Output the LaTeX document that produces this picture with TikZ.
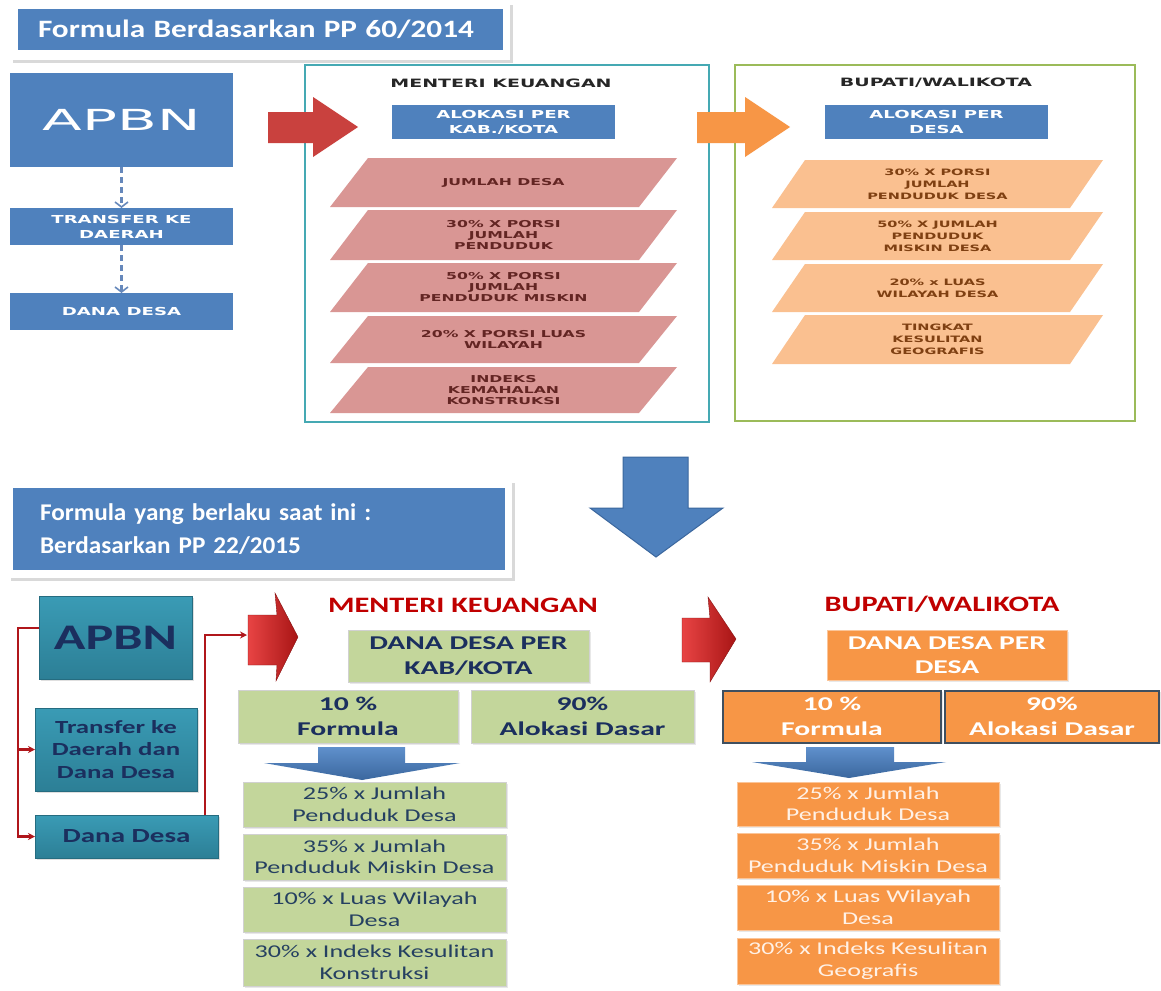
\documentclass[tikz,border=0pt]{standalone}
\usepackage{fontspec}
\setmainfont{Carlito}
\newfontfamily\myTitA[FakeStretch=1.25]{Carlito}
\newfontfamily\myTitB[FakeStretch=1.05]{Carlito}
\newfontfamily\myBot[FakeStretch=1.45]{Carlito}
\newfontfamily\myBotH[FakeStretch=1.52]{Carlito}
\newfontfamily\myHead[FakeStretch=1.38]{Carlito}
\newfontfamily\myVd[FakeStretch=1.65]{DejaVu Sans}
\newfontfamily\myAp[FakeStretch=2.0]{DejaVu Sans}
\usetikzlibrary{arrows.meta,shadows}
\definecolor{cBlue}{HTML}{4F81BD}
\definecolor{cBlueD}{HTML}{3B679E}
\definecolor{cBlueL}{HTML}{5F90CC}
\definecolor{cDash}{HTML}{6688BB}
\definecolor{cRedArr}{HTML}{C9413E}
\definecolor{cOrArr}{HTML}{F79646}
\definecolor{cPink}{HTML}{D99694}
\definecolor{cPinkTx}{HTML}{632523}
\definecolor{cLOr}{HTML}{FAC090}
\definecolor{cLOrTx}{HTML}{7F4012}
\definecolor{cTealFr}{HTML}{45A9B3}
\definecolor{cGrFr}{HTML}{9BBB59}
\definecolor{cTealL}{HTML}{3A9BB5}
\definecolor{cTealD}{HTML}{2C7F96}
\definecolor{cNavy}{HTML}{1B2F5E}
\definecolor{cGrn}{HTML}{C3D69B}
\definecolor{cGrnTx}{HTML}{254061}
\definecolor{cOrg}{HTML}{F79646}
\definecolor{cOrgBd}{HTML}{3F4F5F}
\definecolor{cOrgTx}{HTML}{FFF1E6}
\definecolor{cConn}{HTML}{B0161B}
\definecolor{cHRed}{HTML}{C00000}
\definecolor{cR3L}{HTML}{E84444}
\definecolor{cR3R}{HTML}{A81515}
\begin{document}
\begin{tikzpicture}[x=1pt,y=-1pt,
  topbox/.style={fill=cBlue, inner sep=0pt, outer sep=0pt, align=center, text=white,
     font=\myVd\bfseries\fontsize{11}{15}\selectfont},
  dasharr/.style={draw=cDash, line width=3pt, dash pattern=on 6pt off 4pt,
     -{Straight Barb[length=5pt,width=13pt,line width=1.6pt]}},
  frame/.style={line width=2pt, inner sep=0pt, outer sep=0pt},
  tophead/.style={font=\myVd\bfseries\fontsize{11.5}{12}\selectfont, text=black!85},
  pgtxt/.style={align=center, text=cPinkTx, font=\myVd\bfseries\fontsize{9.5}{11}\selectfont},
  lotxt/.style={align=center, text=cLOrTx, font=\myVd\bfseries\fontsize{8.8}{12}\selectfont},
  tealbox/.style={top color=cTealL, bottom color=cTealD, draw=cTealD!85!black, line width=0.5pt,
     inner sep=0pt, outer sep=0pt, align=center, text=cNavy,
     drop shadow={opacity=0.25, shadow xshift=2pt, shadow yshift=-2pt}},
  redcon/.style={draw=cConn, line width=2.2pt, -{Stealth[length=7pt,width=7pt]}},
  red3d/.style={left color=cR3L, right color=cR3R, draw=cR3R!80!black, line width=0.4pt},
  redhead/.style={font=\myHead\bfseries\fontsize{22}{23}\selectfont, text=cHRed},
  gbox/.style={fill=cGrn, draw=white!82!black, line width=0.6pt, inner sep=0pt, outer sep=0pt,
     align=center, drop shadow={opacity=0.18, shadow xshift=1.5pt, shadow yshift=-1.5pt}},
  obox/.style={fill=cOrg, draw=cOrg!55!white, line width=0.6pt, inner sep=0pt, outer sep=0pt,
     align=center, drop shadow={opacity=0.18, shadow xshift=1.5pt, shadow yshift=-1.5pt}},
  hdtxt/.style={font=\myBotH\bfseries\fontsize{19.5}{24.5}\selectfont},
  lsttxt/.style={font=\myBot\fontsize{18}{21.5}\selectfont},
  smarr/.style={top color=cBlueL, bottom color=cBlueD, draw=none}
]
\useasboundingbox (0,0) rectangle (1161,990);
\fill[white] (0,0) rectangle (1161,990);

% ---------- Title 1 ----------
\fill[black!15] (13,5) rectangle (513,63);
\fill[white] (10,2) rectangle (510,60);
\node[fill=cBlue, minimum width=485pt, minimum height=41pt, text width=445pt,
      inner xsep=20pt, inner ysep=0pt, outer sep=0pt, align=left, text=white,
      font=\myTitA\bfseries\fontsize{25}{28}\selectfont] (title1) at (260.5,29.5)
      {Formula Berdasarkan PP 60/2014};

% ---------- Top left column ----------
\node[topbox, minimum width=223pt, minimum height=94pt,
      font=\myAp\fontsize{29}{30}\selectfont] (apbn) at (121.5,120) {APBN};
\node[topbox, minimum width=223pt, minimum height=37pt] (trans) at (121.5,226.5) {TRANSFER KE\\DAERAH};
\node[topbox, minimum width=223pt, minimum height=37pt] (dana) at (121.5,311.5) {DANA DESA};
\draw[dasharr] (apbn) -- (trans);
\draw[dasharr] (trans) -- (dana);

% ---------- Menteri Keuangan frame ----------
\node[frame, draw=cTealFr, minimum width=404pt, minimum height=357pt] (mkf) at (507,243.5) {};
\node[tophead] (mkh) at (501,83) {MENTERI KEUANGAN};
\node[topbox, minimum width=223pt, minimum height=34pt] (alk) at (503.5,122) {ALOKASI PER\\KAB./KOTA};
\foreach \ty/\by/\txt [count=\i] in {158/207/{JUMLAH DESA},
    210/260/{30\% X PORSI\\JUMLAH\\PENDUDUK},
    263/312/{50\% X PORSI\\JUMLAH\\PENDUDUK MISKIN},
    316/363/{20\% X PORSI LUAS\\WILAYAH},
    367/413/{INDEKS\\KEMAHALAN\\KONSTRUKSI}}{
  \fill[cPink] (368,\ty) -- (677,\ty) -- (639,\by) -- (330,\by) -- cycle;
  \node[pgtxt] (pk\i) at (503.5,{(\ty+\by)/2}) {\txt};
}

% ---------- Bupati frame ----------
\node[frame, draw=cGrFr, minimum width=400pt, minimum height=356pt] (bwf) at (935,243) {};
\node[tophead] (bwh) at (936,83) {BUPATI/WALIKOTA};
\node[topbox, minimum width=223pt, minimum height=34pt] (ald) at (936.5,122) {ALOKASI PER\\DESA};
\foreach \ty/\by/\txt [count=\i] in {160/208/{30\% X PORSI\\JUMLAH\\PENDUDUK DESA},
    212/260/{50\% X JUMLAH\\PENDUDUK\\MISKIN DESA},
    264/312/{20\% x LUAS\\WILAYAH DESA},
    315/364/{TINGKAT\\KESULITAN\\GEOGRAFIS}}{
  \fill[cLOr] (805,\ty) -- (1103,\ty) -- (1070,\by) -- (772,\by) -- cycle;
  \node[lotxt] (lo\i) at (937.5,{(\ty+\by)/2}) {\txt};
}

% ---------- top block arrows ----------
\fill[cRedArr] (268,112) -- (313,112) -- (313,97) -- (358,127) -- (313,157) -- (313,143) -- (268,143) -- cycle;
\fill[cOrArr] (697,112) -- (745,112) -- (745,97) -- (790,127) -- (745,157) -- (745,143) -- (697,143) -- cycle;

% ---------- big down arrow ----------
\draw[fill=cBlue, draw=cBlueD, line width=1pt] (623,457) -- (688,457) -- (688,508) -- (723,508)
   -- (656,557) -- (590,508) -- (623,508) -- cycle;

% ---------- Title 2 ----------
\fill[black!15] (11,483) rectangle (515,581);
\fill[white] (8,480) rectangle (512,578);
\node[fill=cBlue, minimum width=492pt, minimum height=82pt, text width=438pt,
      inner xsep=27pt, inner ysep=0pt, outer sep=0pt, align=left, text=white,
      font=\myTitB\bfseries\fontsize{24}{33}\selectfont] (title2) at (259,529)
      {Formula yang berlaku saat ini :\\Berdasarkan PP 22/2015};

% ---------- bottom left column ----------
\node[tealbox, minimum width=153pt, minimum height=83pt,
      font=\myBot\bfseries\fontsize{36}{38}\selectfont] (apbn2) at (115.5,637.5) {APBN};
\node[tealbox, minimum width=162pt, minimum height=83pt,
      font=\myBot\bfseries\fontsize{18.5}{22.5}\selectfont] (tr2) at (116,749.5) {Transfer ke\\Daerah dan\\Dana Desa};
\node[tealbox, minimum width=183pt, minimum height=43pt,
      font=\myBot\bfseries\fontsize{20}{22}\selectfont] (dd2) at (126.5,836.5) {Dana Desa};

\coordinate (lx) at (18,700);
\coordinate (ra1in) at (247,635);
\draw[redcon] ([yshift=9.5pt]apbn2.west) -| (lx) |- (dd2.west);
\draw[redcon] (lx |- tr2.west) -- (tr2.west);
\draw[redcon] ([xshift=-13pt]dd2.north east) |- (ra1in);

% ---------- bottom 3D red arrows ----------
\path[red3d] (248,615) -- (277,615) -- (275,593) -- (298,637) -- (276,681) -- (277,665) -- (248,665) -- cycle;
\path[red3d] (682,618) -- (710,618) -- (708,597) -- (736,639) -- (710,682) -- (710,662) -- (682,662) -- cycle;

% ---------- Menteri Keuangan (bottom) ----------
\node[redhead] (mk2) at (463,605) {MENTERI KEUANGAN};
\node[gbox, hdtxt, text=cNavy, minimum width=241pt, minimum height=52pt] (ddk) at (468.5,656) {DANA DESA PER\\KAB/KOTA};
\node[gbox, hdtxt, text=cNavy, minimum width=220pt, minimum height=53pt] (g10) at (348,716.5) {10 \%\\Formula};
\node[gbox, hdtxt, text=cNavy, minimum width=223pt, minimum height=53pt] (g90) at (582.5,716.5) {90\%\\Alokasi Dasar};
\path[smarr] (318,747) -- (405,747) -- (405,763) -- (460,763) -- (362,780) -- (264,763) -- (318,763) -- cycle;
\node[gbox, lsttxt, text=cGrnTx, minimum width=263pt, minimum height=45pt] (gl1) at (374.5,804.5) {25\% x Jumlah\\Penduduk Desa};
\node[gbox, lsttxt, text=cGrnTx, minimum width=263pt, minimum height=46pt] (gl2) at (374.5,857) {35\% x Jumlah\\Penduduk Miskin Desa};
\node[gbox, lsttxt, text=cGrnTx, minimum width=263pt, minimum height=45pt] (gl3) at (374.5,909.5) {10\% x Luas Wilayah\\Desa};
\node[gbox, lsttxt, text=cGrnTx, minimum width=263pt, minimum height=47pt] (gl4) at (374.5,962.5) {30\% x Indeks Kesulitan\\Konstruksi};

% ---------- Bupati (bottom) ----------
\node[redhead] (bw2) at (942,604) {BUPATI/WALIKOTA};
\node[obox, hdtxt, text=white, minimum width=240pt, minimum height=50pt] (ddd) at (947,655) {DANA DESA PER\\DESA};
\node[obox, hdtxt, text=white, draw=cOrgBd, line width=2pt, minimum width=218pt, minimum height=52pt] (o10) at (832,716.5) {10 \%\\Formula};
\node[obox, hdtxt, text=white, draw=cOrgBd, line width=2pt, minimum width=214pt, minimum height=52pt] (o90) at (1052,716.5) {90\%\\Alokasi Dasar};
\path[smarr] (806,747) -- (894,747) -- (894,762) -- (946,762) -- (849,778) -- (752,762) -- (806,762) -- cycle;
\node[obox, lsttxt, text=cOrgTx, minimum width=262pt, minimum height=44pt] (ol1) at (868,804) {25\% x Jumlah\\Penduduk Desa};
\node[obox, lsttxt, text=cOrgTx, minimum width=262pt, minimum height=45pt] (ol2) at (868,855.5) {35\% x Jumlah\\Penduduk Miskin Desa};
\node[obox, lsttxt, text=cOrgTx, minimum width=262pt, minimum height=45pt] (ol3) at (868,907.5) {10\% x Luas Wilayah\\Desa};
\node[obox, lsttxt, text=cOrgTx, minimum width=262pt, minimum height=46pt] (ol4) at (868,961) {30\% x Indeks Kesulitan\\Geografis};
\end{tikzpicture}
\end{document}
